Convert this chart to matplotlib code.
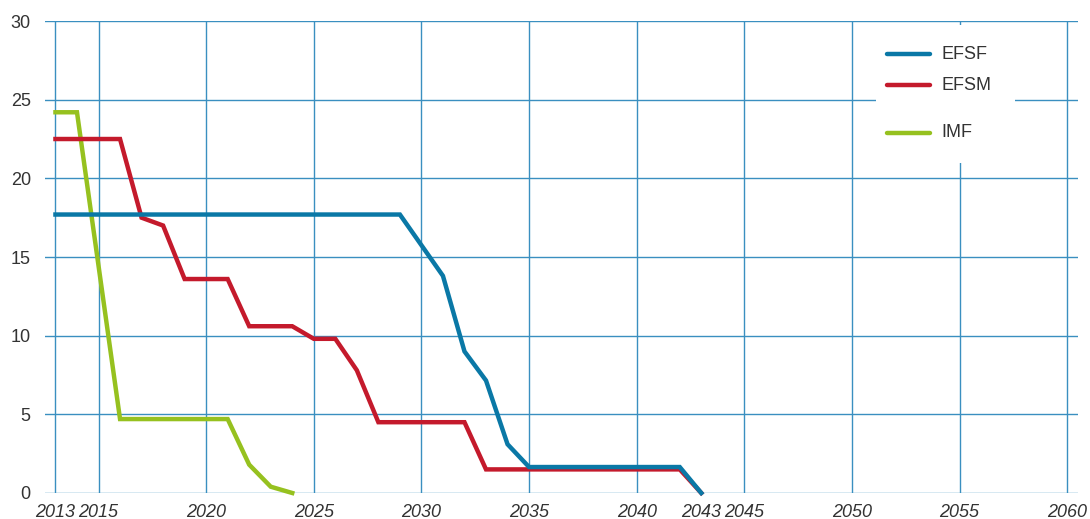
import matplotlib.pyplot as plt
from matplotlib.patches import Rectangle

# Data
imf_years = [2013, 2014, 2016, 2017, 2018, 2019, 2020, 2021, 2022, 2023, 2024]
imf_vals = [24.2, 24.2, 4.7, 4.7, 4.7, 4.7, 4.7, 4.7, 1.8, 0.4, 0.0]

efsm_years = [2013, 2014, 2015, 2016, 2017, 2018, 2019, 2020, 2021, 2022, 2023,
              2024, 2025, 2026, 2027, 2028, 2029, 2030, 2031, 2032, 2033, 2034,
              2035, 2036, 2037, 2038, 2039, 2040, 2041, 2042, 2043]
efsm_vals = [22.5, 22.5, 22.5, 22.5, 17.5, 17.0, 13.6, 13.6, 13.6, 10.6, 10.6,
             10.6, 9.8, 9.8, 7.8, 4.5, 4.5, 4.5, 4.5, 4.5, 1.5, 1.5,
             1.5, 1.5, 1.5, 1.5, 1.5, 1.5, 1.5, 1.5, 0.0]

efsf_years = [2013, 2020, 2025, 2029, 2030, 2031, 2032, 2033, 2034, 2035,
              2038, 2040, 2042, 2043]
efsf_vals = [17.7, 17.7, 17.7, 17.7, 15.75, 13.8, 9.0, 7.15, 3.1, 1.65,
             1.65, 1.65, 1.65, 0.0]

major_x = [2013, 2015, 2020, 2025, 2030, 2035, 2040, 2045, 2050, 2055, 2060]
minor_x = [2043]
y_ticks = [0, 5, 10, 15, 20, 25, 30]

c_efsf = '#0a78a6'
c_efsm = '#c41a2c'
c_imf = '#96c11f'
c_grid = '#3a8fc0'
c_text = '#333333'

plt.rcParams['font.family'] = ['Liberation Sans', 'DejaVu Sans']

fig = plt.figure(figsize=(10.9, 5.19), dpi=100)
ax = fig.add_axes([0.041, 0.0501, 0.948, 0.9094])

ax.plot(efsf_years, efsf_vals, color=c_efsf, lw=3.2, clip_on=False, zorder=5,
        solid_joinstyle='miter')
ax.plot(efsm_years, efsm_vals, color=c_efsm, lw=3.2, clip_on=False, zorder=4,
        solid_joinstyle='miter')
ax.plot(imf_years, imf_vals, color=c_imf, lw=3.2, clip_on=False, zorder=3,
        solid_joinstyle='miter')

ax.set_xlim(2012.5, 2060.5)
ax.set_ylim(0, 30)
ax.set_xticks(major_x)
ax.set_xticks(minor_x, minor=True)
ax.set_xticklabels([str(v) for v in major_x])
ax.set_xticklabels([str(v) for v in minor_x], minor=True)
ax.set_yticks(y_ticks)

ax.grid(True, which='major', color=c_grid, lw=1.0)
ax.set_axisbelow(True)
for s in ax.spines.values():
    s.set_visible(False)

ax.tick_params(axis='both', which='both', length=0, labelsize=13,
               labelcolor=c_text)
ax.tick_params(axis='x', which='both', pad=8)
ax.tick_params(axis='y', pad=10)
for lab in ax.get_xticklabels(which='both'):
    lab.set_fontstyle('italic')

# legend box (white, covering the grid)
ax.add_patch(Rectangle((0.8045, 0.699), 0.1345, 0.2925, transform=ax.transAxes,
                       facecolor='white', edgecolor='none', zorder=2))
leg = [('EFSF', c_efsf, 0.9294), ('EFSM', c_efsm, 0.8638), ('IMF', c_imf, 0.7633)]
for name, col, yy in leg:
    ax.plot([0.8155, 0.8565], [yy, yy], transform=ax.transAxes, color=col,
            lw=3.2, solid_capstyle='round', zorder=6)
    ax.text(0.8675, yy, name, transform=ax.transAxes, fontsize=13,
            color=c_text, va='center', ha='left', zorder=6)

fig.savefig('out.png', dpi=100)
